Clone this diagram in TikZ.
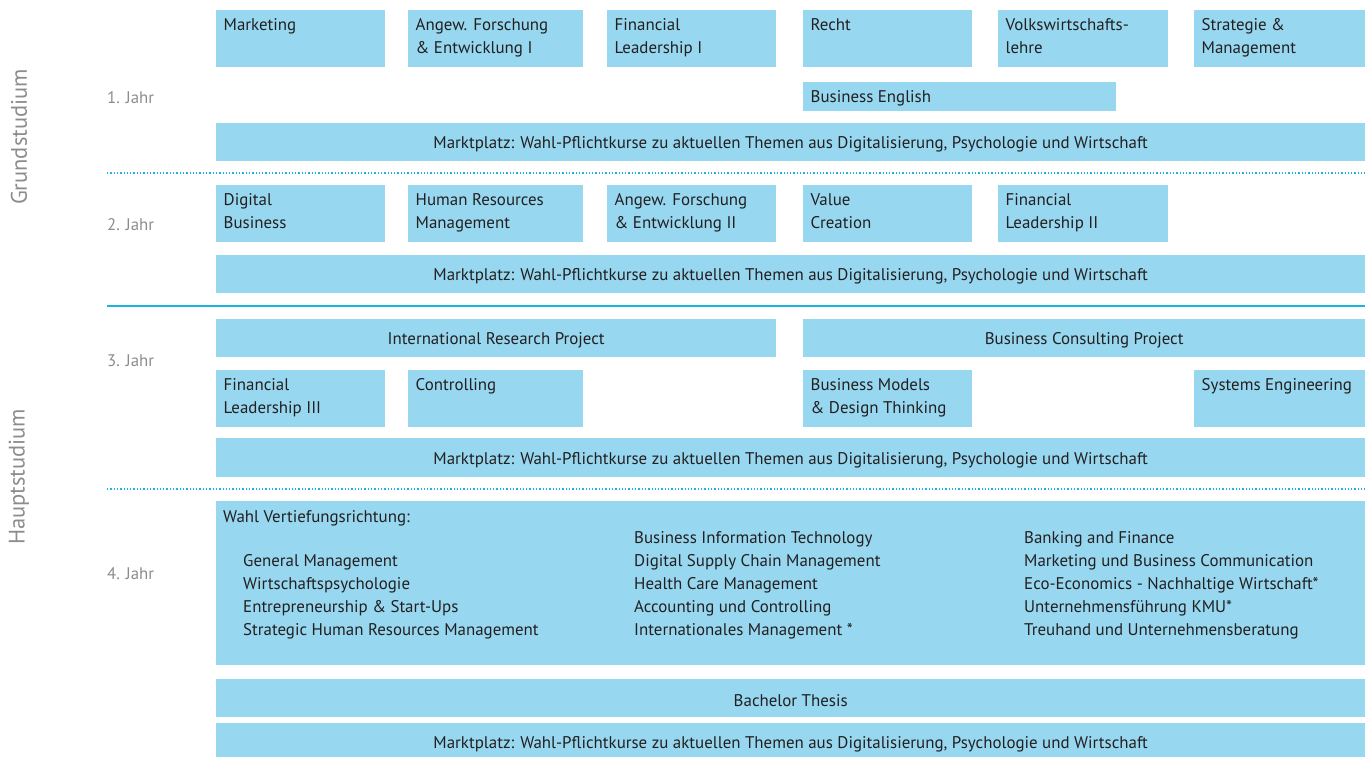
\documentclass[tikz,border=0pt]{standalone}
\usepackage{fontspec}
\setmainfont{PT Sans}
\definecolor{boxc}{RGB}{151,216,240}
\definecolor{linec}{RGB}{27,180,224}
\definecolor{txtc}{RGB}{35,31,32}
\definecolor{grayc}{RGB}{140,140,140}
\begin{document}
\begin{tikzpicture}[x=1pt,y=-1pt,
  box/.style={fill=boxc, draw=none, inner sep=0, anchor=north west},
  txt/.style={text=txtc, inner sep=0, anchor=north west, align=left, font=\fontsize{16.9}{23}\selectfont},
  ctxt/.style={text=txtc, inner sep=0, font=\fontsize{16.9}{23}\selectfont},
  yr/.style={text=grayc, inner sep=0, anchor=west, font=\fontsize{16.8}{18}\selectfont},
  stud/.style={text=grayc, inner sep=0, rotate=90, font=\fontsize{22.5}{24}\selectfont},
  sep/.style={draw=linec, line width=1.3pt, dotted},
  solidsep/.style={draw=linec, line width=1.5pt}]
\useasboundingbox (0,0) rectangle (1365,756);
\newcommand{\bx}[5]{\node[box, minimum width=#4-#2, minimum height=#5-#3] (#1) at (#2,#3) {};}
% Year 1
\bx{mkt}{216}{10}{385}{67}
\bx{afe}{408}{10}{583}{67}
\bx{fl}{607}{10}{776}{67}
\bx{re}{803}{10}{972}{67}
\bx{vwl}{998}{10}{1168}{67}
\bx{sm}{1194}{10}{1365}{67}
\node[txt] (tmkt) at ([shift={(7.5,8.5)}]mkt.north west) {Marketing};
\node[txt] (tafe) at ([shift={(7.5,8.5)}]afe.north west) {Angew. Forschung\\\& Entwicklung I};
\node[txt] (tfl) at ([shift={(7.5,8.5)}]fl.north west) {Financial\\Leadership I};
\node[txt] (tre) at ([shift={(7.5,8.5)}]re.north west) {Recht};
\node[txt] (tvwl) at ([shift={(7.5,8.5)}]vwl.north west) {Volkswirtschafts-\\lehre};
\node[txt] (tsm) at ([shift={(7.5,8.5)}]sm.north west) {Strategie \&\\Management};
\bx{be}{803}{82}{1116}{111}
\node[txt] (tbe) at ([shift={(7.5,8.5)}]be.north west) {Business English};
\bx{mp1}{216}{123}{1365}{161}
\node[ctxt] (tmp1) at ([yshift=-2.5]mp1.center) {Marktplatz: Wahl-Pflichtkurse zu aktuellen Themen aus Digitalisierung, Psychologie und Wirtschaft};
\coordinate (d1a) at (107,173);
\coordinate (d1b) at (1365,173);
\draw[sep] (d1a) -- (d1b);
% Year 2
\bx{db}{216}{185}{385}{242}
\bx{hrm}{408}{185}{583}{242}
\bx{afe2}{607}{185}{776}{242}
\bx{vc}{803}{185}{972}{242}
\bx{fl2}{998}{185}{1168}{242}
\node[txt] (tdb) at ([shift={(7.5,8.5)}]db.north west) {Digital\\Business};
\node[txt] (thrm) at ([shift={(7.5,8.5)}]hrm.north west) {Human Resources\\Management};
\node[txt] (tafe2) at ([shift={(7.5,8.5)}]afe2.north west) {Angew. Forschung\\\& Entwicklung II};
\node[txt] (tvc) at ([shift={(7.5,8.5)}]vc.north west) {Value\\Creation};
\node[txt] (tfl2) at ([shift={(7.5,8.5)}]fl2.north west) {Financial\\Leadership II};
\bx{mp2}{216}{255}{1365}{293}
\node[ctxt] (tmp2) at ([yshift=-2.5]mp2.center) {Marktplatz: Wahl-Pflichtkurse zu aktuellen Themen aus Digitalisierung, Psychologie und Wirtschaft};
\coordinate (s1a) at (107,306);
\coordinate (s1b) at (1365,306);
\draw[solidsep] (s1a) -- (s1b);
% Year 3
\bx{irp}{216}{319}{776}{357}
\bx{bcp}{803}{319}{1365}{357}
\node[ctxt] (tirp) at ([yshift=-2.5]irp.center) {International Research Project};
\node[ctxt] (tbcp) at ([yshift=-2.5]bcp.center) {Business Consulting Project};
\bx{fl3}{216}{370}{385}{427}
\bx{ctr}{408}{370}{583}{427}
\bx{bm}{803}{370}{972}{427}
\bx{se}{1194}{370}{1365}{427}
\node[txt] (tfl3) at ([shift={(7.5,8.5)}]fl3.north west) {Financial\\Leadership III};
\node[txt] (tctr) at ([shift={(7.5,8.5)}]ctr.north west) {Controlling};
\node[txt] (tbm) at ([shift={(7.5,8.5)}]bm.north west) {Business Models\\\& Design Thinking};
\node[txt] (tse) at ([shift={(7.5,8.5)}]se.north west) {Systems Engineering};
\bx{mp3}{216}{438}{1365}{477}
\node[ctxt] (tmp3) at ([yshift=-2.5]mp3.center) {Marktplatz: Wahl-Pflichtkurse zu aktuellen Themen aus Digitalisierung, Psychologie und Wirtschaft};
\coordinate (d2a) at (107,489);
\coordinate (d2b) at (1365,489);
\draw[sep] (d2a) -- (d2b);
% Year 4
\bx{wv}{216}{501}{1365}{665}
\node[txt] (twv) at ([shift={(7,9.5)}]wv.north west) {Wahl Vertiefungsrichtung:};
\node[txt] (c1) at (243,554.5) {General Management\\Wirtschaftspsychologie\\Entrepreneurship \& Start-Ups\\Strategic Human Resources Management};
\node[txt] (c2) at (634,531.5) {Business Information Technology\\Digital Supply Chain Management\\Health Care Management\\Accounting und Controlling\\Internationales Management *};
\node[txt] (c3) at (1024,531.5) {Banking and Finance\\Marketing und Business Communication\\Eco-Economics - Nachhaltige Wirtschaft*\\Unternehmensführung KMU*\\Treuhand und Unternehmensberatung};
\bx{bt}{216}{679}{1365}{717}
\node[ctxt] (tbt) at ([yshift=-2.5]bt.center) {Bachelor Thesis};
\bx{mp4}{216}{723}{1365}{761}
\node[ctxt] (tmp4) at ([yshift=-2.5]mp4.center) {Marktplatz: Wahl-Pflichtkurse zu aktuellen Themen aus Digitalisierung, Psychologie und Wirtschaft};
% Labels
\node[yr] (y1) at (107,98) {1. Jahr};
\node[yr] (y2) at (107,225) {2. Jahr};
\node[yr] (y3) at (107,361) {3. Jahr};
\node[yr] (y4) at (107,574) {4. Jahr};
\node[stud] (gs) at (19,137) {Grundstudium};
\node[stud] (hs) at (19,477) {Hauptstudium};
\end{tikzpicture}
\end{document}
